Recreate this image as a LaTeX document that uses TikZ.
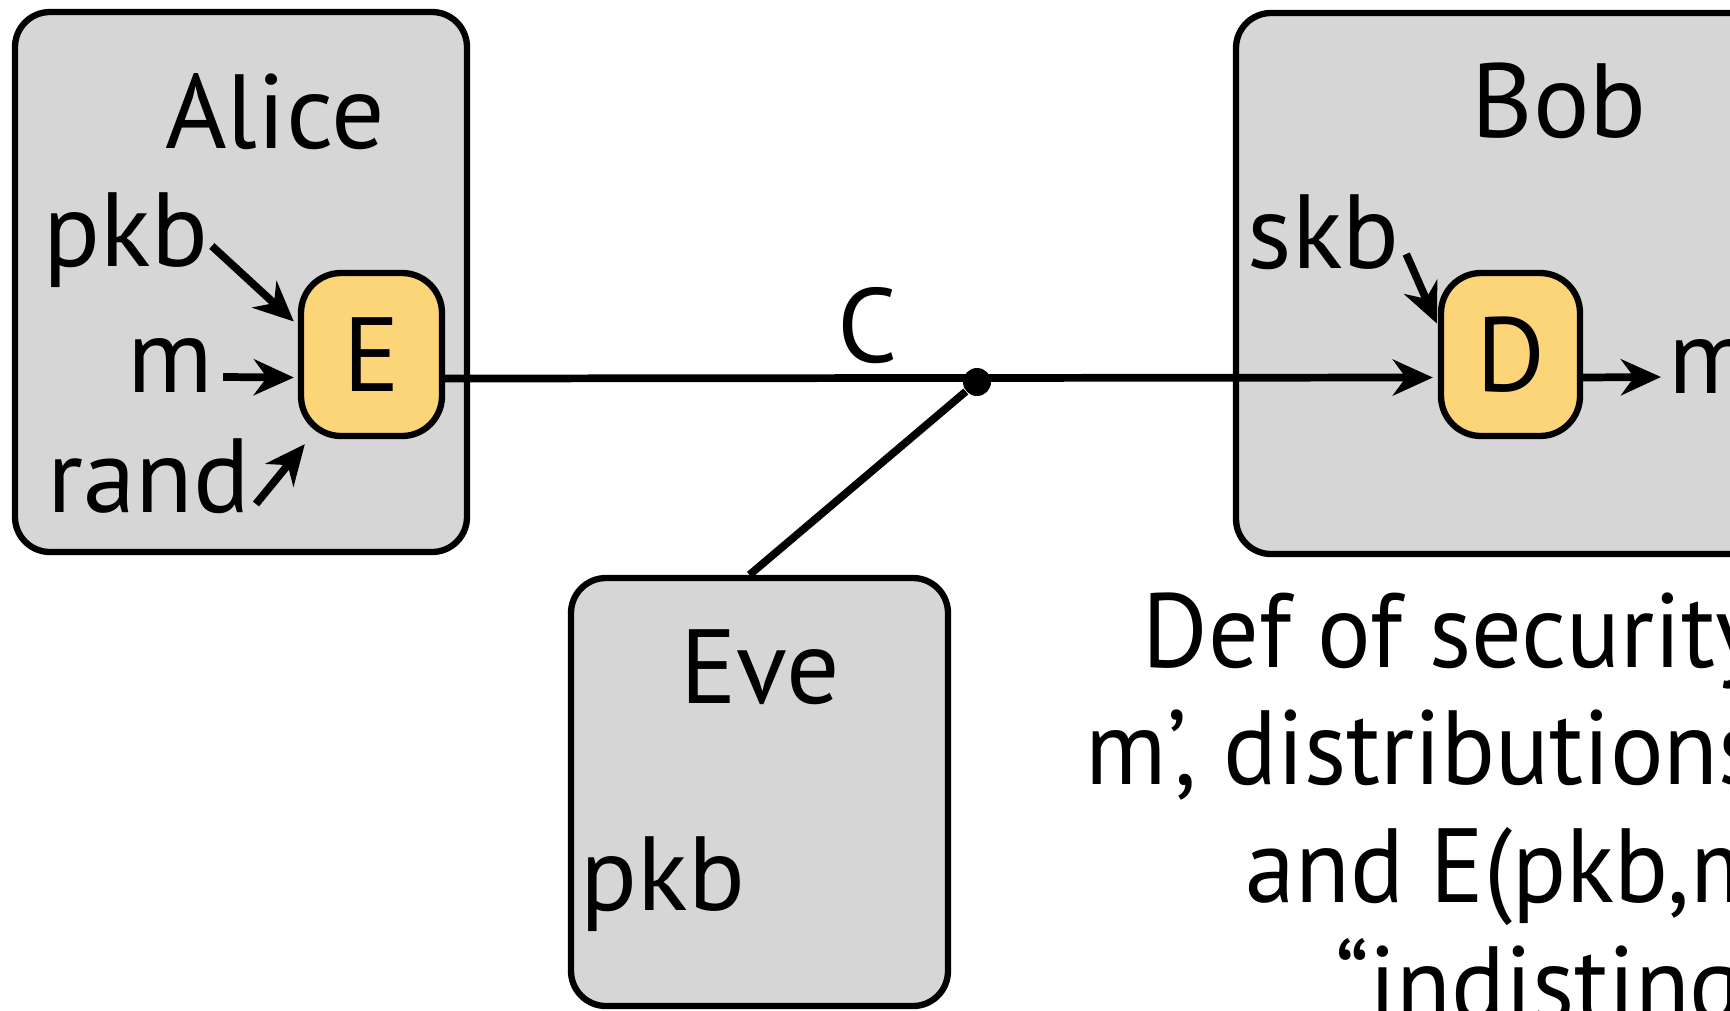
\documentclass[tikz,border=0pt]{standalone}
\usepackage{fontspec}
\setmainfont{PT Sans}
\newfontfamily\deffont[FakeStretch=0.95]{PT Sans}
\usetikzlibrary{arrows.meta,calc}
\definecolor{boxgray}{RGB}{214,214,214}
\definecolor{opyellow}{RGB}{253,213,121}

\begin{document}
\begin{tikzpicture}[
  party/.style={draw, line width=1.8pt, fill=boxgray, rounded corners=0.35cm},
  op/.style={draw, line width=1.8pt, fill=opyellow, rounded corners=0.4cm, inner sep=0pt, font=\fontsize{30}{36}\selectfont},
  lbl/.style={inner sep=0pt, font=\fontsize{30}{36}\selectfont},
  deftext/.style={inner sep=0pt, font=\deffont\fontsize{30}{36}\selectfont},
  arr/.style={line width=2.2pt, -{Stealth[length=0.4cm,width=0.36cm]}},
  wire/.style={line width=2.2pt}
]
\useasboundingbox (0,0) rectangle (17.3,-10.1);
\clip (0,0) rectangle (17.3,-10.1);

% the three parties
\node[party, minimum width=4.52cm, minimum height=5.40cm] (alice) at (2.41,-2.82) {};
\node[party, minimum width=6.44cm, minimum height=5.41cm] (bob) at (15.58,-2.835) {};
\node[party, minimum width=3.77cm, minimum height=4.28cm] (eve) at (7.595,-7.92) {};

\node[lbl, anchor=base] (alicename) at (2.75,-1.48) {Alice};
\node[lbl, anchor=base] (bobname) at (15.59,-1.37) {Bob};
\node[lbl, anchor=base] (evename) at (7.60,-7.03) {Eve};

% encryption and decryption
\node[op, minimum width=1.41cm, minimum height=1.63cm] (E) at (3.715,-3.545) {E};
\node[op, minimum width=1.39cm, minimum height=1.63cm] (D) at (15.105,-3.545) {D};

% inputs and outputs
\node[lbl, anchor=base west] (pkb) at (0.43,-2.66) {pkb};
\node[lbl, anchor=base west] (msg) at (1.27,-3.92) {m};
\node[lbl, anchor=base west] (rand) at (0.47,-5.12) {rand};
\node[lbl, anchor=base west] (skb) at (12.47,-2.68) {skb};
\node[lbl, anchor=base west] (mout) at (16.68,-3.93) {m};
\node[lbl, anchor=base west] (evepkb) at (5.80,-9.10) {pkb};
\node[lbl, anchor=base] (cipher) at (8.68,-3.62) {C};

\draw[arr] ([shift={(0.03,0.20)}]pkb.base east) -- ([shift={(-0.04,0.33)}]E.west);
\draw[arr] ([shift={(0.09,0.15)}]msg.base east) -- ([shift={(-0.04,-0.23)}]E.west);
\draw[arr] ([shift={(0.05,0.08)}]rand.base east) -- ([shift={(0.07,-0.05)}]E.south west);
\draw[arr] ([shift={(0.06,0.14)}]skb.base east) -- ([shift={(-0.01,0.31)}]D.west);
\draw[arr] ([yshift=-0.23cm]D.east) -- ([shift={(-0.07,0.16)}]mout.base west);

% channel and eavesdropper
\draw[arr] ([yshift=-0.24cm]E.east) -- ([shift={(-0.05,-0.23)}]D.west);
\node[circle, fill, inner sep=0pt, minimum size=0.28cm] (tap) at (9.77,-3.82) {};
\draw[wire] (tap) -- ([xshift=-0.1cm]eve.north);

% definition text
\node[deftext, anchor=base west] (def1) at (11.42,-6.67) {Def of security};
\node[deftext, anchor=base west] (def2) at (10.85,-7.84) {m’, distributions};
\node[deftext, anchor=base west] (def3) at (12.45,-9.02) {and E(pkb,m};
\node[deftext, anchor=base west] (def4) at (13.35,-10.20) {“indistingu};
\end{tikzpicture}
\end{document}
